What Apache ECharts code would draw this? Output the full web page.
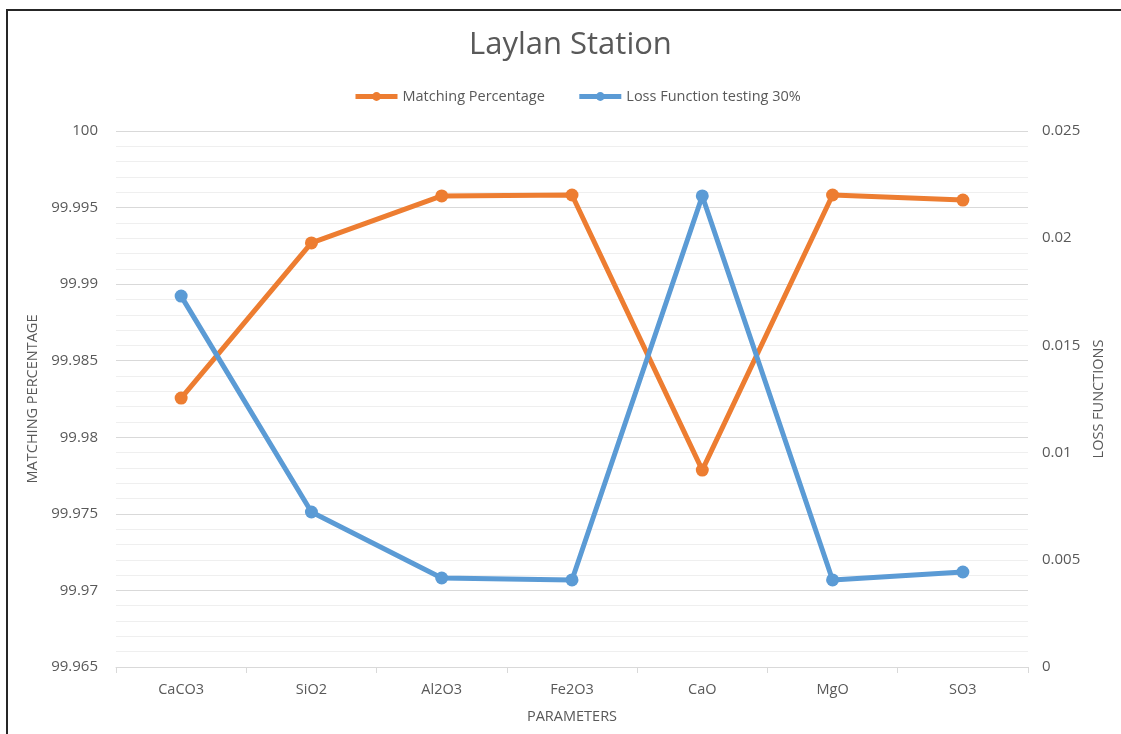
<!DOCTYPE html>
<html>
<head>
<meta charset="utf-8">
<script src="https://cdn.jsdelivr.net/npm/echarts@6/dist/echarts.min.js"></script>
<style>
  html, body { margin: 0; padding: 0; background: #fff; }
  #chart { width: 1121px; height: 734px; }
  .frame {
    position: absolute; left: 6px; top: 9px; right: 0; bottom: 0;
    border-top: 2px solid #262626; border-left: 2px solid #262626;
    pointer-events: none;
  }
</style>
</head>
<body>
<div id="chart"></div>
<div class="frame"></div>
<script>
const categories = ['CaCO3', 'SiO2', 'Al2O3', 'Fe2O3', 'CaO', 'MgO', 'SO3']
const matchingPercentage = [99.98256, 99.99269, 99.99576, 99.99582, 99.97786, 99.99582, 99.99549]
const lossFunction = [0.0173, 0.00723, 0.00415, 0.00406, 0.02197, 0.00406, 0.00443]

const font = "'Open Sans', 'Noto Sans', sans-serif"
const grey = '#595959'

const chart = echarts.init(document.getElementById('chart'))

chart.setOption({
  animation: false,
  title: {
    text: 'Laylan Station',
    left: 464,
    top: 25,
    textStyle: { fontFamily: font, fontWeight: 'normal', fontSize: 31, color: grey }
  },
  legend: {
    top: 84,
    left: 348,
    itemWidth: 42,
    itemHeight: 11,
    itemGap: 32,
    lineStyle: { width: 5 },
    textStyle: { fontFamily: font, fontSize: 14.5, color: grey },
    data: ['Matching Percentage', 'Loss Function testing 30%']
  },
  grid: { left: 116, right: 93, top: 131, bottom: 67 },
  xAxis: {
    type: 'category',
    data: categories,
    boundaryGap: true,
    name: 'PARAMETERS',
    nameLocation: 'middle',
    nameGap: 42,
    nameTextStyle: { fontFamily: font, fontSize: 14.5, color: grey },
    axisLine: { lineStyle: { color: '#d9d9d9' } },
    axisTick: { show: true, length: 6, lineStyle: { color: '#d9d9d9' } },
    axisLabel: { fontFamily: font, fontSize: 14.5, color: grey, margin: 15 }
  },
  yAxis: [
    {
      type: 'value',
      min: 99.965,
      max: 100,
      interval: 0.005,
      name: 'MATCHING PERCENTAGE',
      nameLocation: 'middle',
      nameGap: 72,
      nameTextStyle: { fontFamily: font, fontSize: 14.5, color: grey },
      axisLine: { show: false },
      axisTick: { show: false },
      axisLabel: {
        fontFamily: font, fontSize: 15, color: grey, margin: 18,
        formatter: v => String(+v.toFixed(3))
      },
      splitLine: { lineStyle: { color: '#d9d9d9' } },
      minorTick: { show: false, splitNumber: 5 },
      minorSplitLine: { show: true, lineStyle: { color: '#efefef' } }
    },
    {
      type: 'value',
      min: 0,
      max: 0.025,
      interval: 0.005,
      name: 'LOSS FUNCTIONS',
      nameLocation: 'middle',
      nameGap: 62,
      nameRotate: 90,
      nameTextStyle: { fontFamily: font, fontSize: 14.5, color: grey },
      axisLine: { show: false },
      axisTick: { show: false },
      axisLabel: {
        fontFamily: font, fontSize: 15, color: grey, margin: 14,
        formatter: v => String(+v.toFixed(3))
      },
      splitLine: { show: false }
    }
  ],
  series: [
    {
      name: 'Matching Percentage',
      type: 'line',
      yAxisIndex: 0,
      data: matchingPercentage,
      symbol: 'circle',
      symbolSize: 13,
      lineStyle: { width: 5, color: '#ED7D31' },
      itemStyle: { color: '#ED7D31' }
    },
    {
      name: 'Loss Function testing 30%',
      type: 'line',
      yAxisIndex: 1,
      data: lossFunction,
      symbol: 'circle',
      symbolSize: 13,
      lineStyle: { width: 5, color: '#5B9BD5' },
      itemStyle: { color: '#5B9BD5' }
    }
  ]
})
</script>
</body>
</html>
